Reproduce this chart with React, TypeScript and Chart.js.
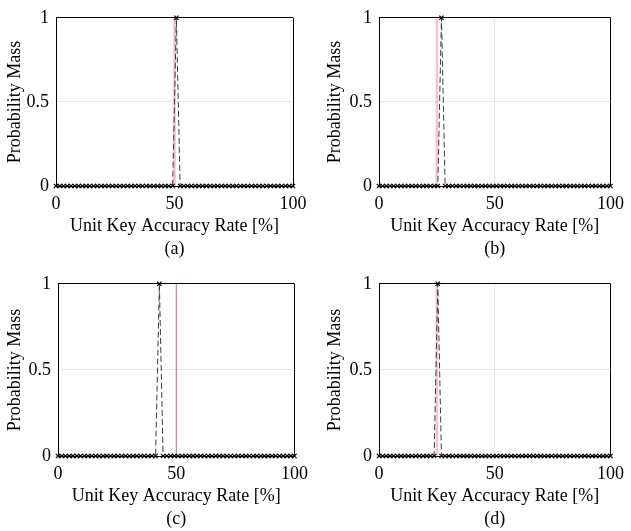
import React, { useEffect, useRef } from "react";
import { Chart, registerables } from "chart.js";
Chart.register(...registerables);

// Accuracy-rate grid (percent)
const xValues = [
  0, 1.59, 3.17, 4.76, 6.35, 7.94, 9.52, 11.11, 12.7, 14.29, 15.87, 17.46, 19.05, 20.63, 22.22, 23.81,
  25.4, 26.98, 28.57, 30.16, 31.75, 33.33, 34.92, 36.51, 38.1, 39.68, 41.27, 42.86, 44.44, 46.03, 47.62, 49.21,
  50.79, 52.38, 53.97, 55.56, 57.14, 58.73, 60.32, 61.9, 63.49, 65.08, 66.67, 68.25, 69.84, 71.43, 73.02, 74.6,
  76.19, 77.78, 79.37, 80.95, 82.54, 84.13, 85.71, 87.3, 88.89, 90.48, 92.06, 93.65, 95.24, 96.83, 98.41, 100,
];

const massA = [
  0, 0, 0, 0, 0, 0, 0, 0, 0, 0, 0, 0, 0, 0, 0, 0,
  0, 0, 0, 0, 0, 0, 0, 0, 0, 0, 0, 0, 0, 0, 0, 0,
  1, 0, 0, 0, 0, 0, 0, 0, 0, 0, 0, 0, 0, 0, 0, 0,
  0, 0, 0, 0, 0, 0, 0, 0, 0, 0, 0, 0, 0, 0, 0, 0,
];
const massB = [
  0, 0, 0, 0, 0, 0, 0, 0, 0, 0, 0, 0, 0, 0, 0, 0,
  0, 1, 0, 0, 0, 0, 0, 0, 0, 0, 0, 0, 0, 0, 0, 0,
  0, 0, 0, 0, 0, 0, 0, 0, 0, 0, 0, 0, 0, 0, 0, 0,
  0, 0, 0, 0, 0, 0, 0, 0, 0, 0, 0, 0, 0, 0, 0, 0,
];
const massC = [
  0, 0, 0, 0, 0, 0, 0, 0, 0, 0, 0, 0, 0, 0, 0, 0,
  0, 0, 0, 0, 0, 0, 0, 0, 0, 0, 0, 1, 0, 0, 0, 0,
  0, 0, 0, 0, 0, 0, 0, 0, 0, 0, 0, 0, 0, 0, 0, 0,
  0, 0, 0, 0, 0, 0, 0, 0, 0, 0, 0, 0, 0, 0, 0, 0,
];
const massD = [
  0, 0, 0, 0, 0, 0, 0, 0, 0, 0, 0, 0, 0, 0, 0, 0,
  1, 0, 0, 0, 0, 0, 0, 0, 0, 0, 0, 0, 0, 0, 0, 0,
  0, 0, 0, 0, 0, 0, 0, 0, 0, 0, 0, 0, 0, 0, 0, 0,
  0, 0, 0, 0, 0, 0, 0, 0, 0, 0, 0, 0, 0, 0, 0, 0,
];

const trueRates = [50, 25, 50, 25];
const captions = ["(a)", "(b)", "(c)", "(d)"];
const xTitle = "Unit Key Accuracy Rate [%]";
const yTitle = "Probability Mass";
const xTicks = [0, 50, 100];
const yTicks = [0, 0.5, 1];

const masses = [massA, massB, massC, massD];

type Panel = {
  left: number; top: number; w: number; h: number;
  area: { l: number; t: number; r: number; b: number };
  yTitleX: number;
  refColor: string; refWidth: number;
};

const panels: Panel[] = [
  { left: 0, top: 0, w: 315, h: 265, area: { l: 56, t: 11, r: 293, b: 186 }, yTitleX: 15, refColor: "rgba(245,150,150,0.55)", refWidth: 2.5 },
  { left: 316, top: 0, w: 315, h: 265, area: { l: 379, t: 11, r: 617, b: 186 }, yTitleX: 335, refColor: "rgba(245,150,150,0.55)", refWidth: 2.5 },
  { left: 0, top: 266, w: 315, h: 265, area: { l: 58, t: 281, r: 297, b: 456 }, yTitleX: 15, refColor: "rgba(225,70,70,0.8)", refWidth: 1 },
  { left: 316, top: 266, w: 315, h: 265, area: { l: 379, t: 281, r: 617, b: 456 }, yTitleX: 335, refColor: "rgba(245,150,150,0.55)", refWidth: 2.5 },
];

const FONT = "'Liberation Serif', 'Times New Roman', serif";

function PanelChart({ idx }: { idx: number }) {
  const ref = useRef<HTMLCanvasElement | null>(null);
  const p = panels[idx];
  useEffect(() => {
    if (!ref.current) return;
    const padTop = p.area.t - p.top;
    const padRight = p.left + p.w - p.area.r;
    const yAxisW = p.area.l - p.left;
    const xAxisH = p.top + p.h - p.area.b;
    const lh = 23;
    const titlePadBottom = xAxisH - lh / 2 - lh - 40;
    const yTitleLocal = p.yTitleX - p.left;
    const yTitlePadTop = yTitleLocal - 10.8;
    const data = masses[idx].map((v, i) => ({ x: xValues[i], y: v }));
    const tr = trueRates[idx];
    const chart = new Chart(ref.current, {
      type: "line",
      data: {
        datasets: [
          {
            data,
            borderColor: "#3c3c3c",
            borderWidth: 1,
            borderDash: [6, 3],
            pointStyle: "crossRot",
            pointRadius: 3,
            pointBorderColor: "#000",
            pointBorderWidth: 1.2,
            pointBackgroundColor: "#000",
            tension: 0,
            clip: false as any,
          },
          {
            data: [{ x: tr, y: 0 }, { x: tr, y: 1 }],
            borderColor: p.refColor,
            borderWidth: p.refWidth,
            pointRadius: 0,
            tension: 0,
          },
        ],
      },
      options: {
        responsive: false,
        animation: false,
        events: [],
        layout: { padding: { top: padTop, right: padRight, left: 0, bottom: 0 } },
        plugins: { legend: { display: false }, tooltip: { enabled: false } },
        scales: {
          x: {
            type: "linear",
            min: 0,
            max: 100,
            afterBuildTicks: (s: any) => { s.ticks = xTicks.map((v) => ({ value: v })); },
            afterFit: (s: any) => { s.height = xAxisH; },
            ticks: { color: "#000", font: { family: FONT, size: 18 }, padding: 7, maxRotation: 0, callback: (v: any) => String(v) },
            grid: {
              drawTicks: false,
              color: (c: any) => (c.tick && (c.tick.value === 0 || c.tick.value === 100) ? "#000" : "#e6e6e6"),
              lineWidth: 1,
            },
            border: { display: true, color: "#000", width: 1 },
            title: {
              display: true,
              text: [xTitle, captions[idx]],
              color: "#000",
              font: { family: FONT, size: 18, lineHeight: lh / 18 },
              padding: { top: 0, bottom: titlePadBottom },
            },
          },
          y: {
            type: "linear",
            min: 0,
            max: 1,
            afterBuildTicks: (s: any) => { s.ticks = yTicks.map((v) => ({ value: v })); },
            afterFit: (s: any) => { s.width = yAxisW; },
            ticks: { color: "#000", font: { family: FONT, size: 18 }, padding: 7, callback: (v: any) => String(v) },
            grid: {
              drawTicks: false,
              color: (c: any) => (c.tick && (c.tick.value === 0 || c.tick.value === 1) ? "#000" : "#e6e6e6"),
              lineWidth: 1,
            },
            border: { display: true, color: "#000", width: 1 },
            title: {
              display: true,
              text: yTitle,
              color: "#000",
              font: { family: FONT, size: 18 },
              padding: { top: yTitlePadTop, bottom: 0 },
            },
          },
        },
      },
    });
    return () => chart.destroy();
  }, [idx]);
  return (
    <canvas
      ref={ref}
      width={p.w}
      height={p.h}
      style={{ position: "absolute", left: p.left, top: p.top, width: p.w, height: p.h, display: "block" }}
    />
  );
}

export default function App() {
  return (
    <div style={{ position: "absolute", left: 0, top: 0, width: 631, height: 531, background: "#fff", overflow: "hidden" }}>
      {panels.map((_, i) => (
        <PanelChart key={i} idx={i} />
      ))}
    </div>
  );
}
